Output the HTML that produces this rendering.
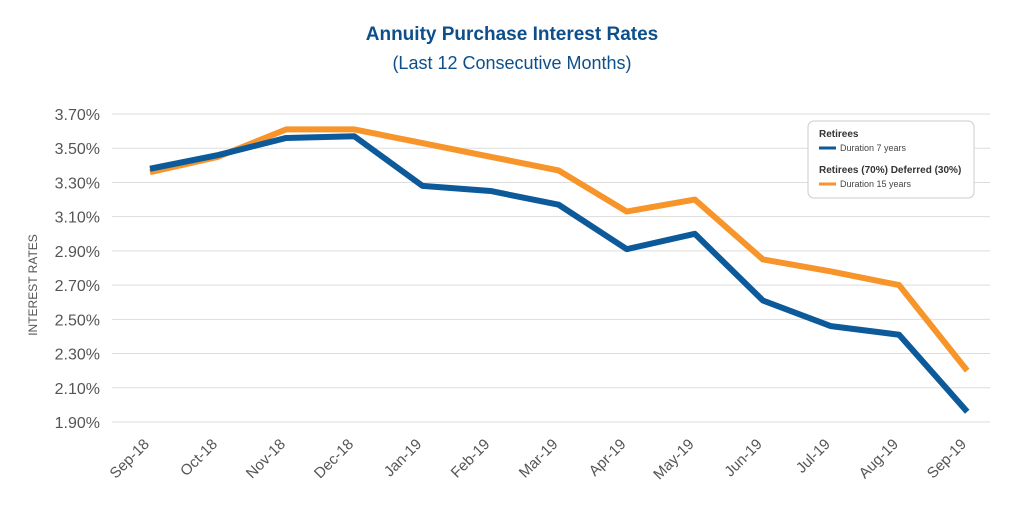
<!DOCTYPE html>
<html><head><meta charset="utf-8"><style>
body{margin:0;background:#fff;font-family:"Liberation Sans",sans-serif;}
svg{display:block}
</style></head><body>
<svg id="chart" width="1024" height="512">
<text x="512" y="40" text-anchor="middle" font-size="19" font-weight="bold" fill="#0d4f8b">Annuity Purchase Interest Rates</text>
<text x="512" y="69" text-anchor="middle" font-size="18" fill="#0d4f8b">(Last 12 Consecutive Months)</text>
<text transform="translate(37,285) rotate(-90)" text-anchor="middle" font-size="12" fill="#555">INTEREST RATES</text>
<g id="grid"></g><g id="lines"></g>
<g>
<rect x="808" y="121" width="166" height="77" rx="6" fill="#fff" stroke="#ccc"/>
<text x="819" y="137" font-size="10" font-weight="bold" fill="#333">Retirees</text>
<line x1="819" y1="148" x2="836" y2="148" stroke="#0d5a9a" stroke-width="3"/>
<text x="840" y="151" font-size="9" fill="#444">Duration 7 years</text>
<text x="819" y="173" font-size="10" font-weight="bold" fill="#333">Retirees (70%) Deferred (30%)</text>
<line x1="819" y1="184" x2="836" y2="184" stroke="#f7942a" stroke-width="3"/>
<text x="840" y="187" font-size="9" fill="#444">Duration 15 years</text>
</g>
</svg>
<script>
const months=["Sep-18","Oct-18","Nov-18","Dec-18","Jan-19","Feb-19","Mar-19","Apr-19","May-19","Jun-19","Jul-19","Aug-19","Sep-19"];
const retirees=[3.38,3.46,3.56,3.57,3.28,3.25,3.17,2.91,3.00,2.61,2.46,2.41,1.96];
const deferred=[3.36,3.45,3.61,3.61,3.53,3.45,3.37,3.13,3.20,2.85,2.78,2.70,2.20];
const yTicks=[1.9,2.1,2.3,2.5,2.7,2.9,3.1,3.3,3.5,3.7];
const NS="http://www.w3.org/2000/svg";
const y=v=>114+(3.7-v)*171.1;
const x=i=>150+i*68.1;
const grid=document.getElementById('grid'),lines=document.getElementById('lines');
yTicks.forEach(t=>{
 const l=document.createElementNS(NS,'line');
 
 
 l.setAttribute('x1',112);l.setAttribute('x2',990);l.setAttribute('y1',y(t));l.setAttribute('y2',y(t));
 l.setAttribute('stroke','#ddd');grid.appendChild(l);
 const tx=document.createElementNS(NS,'text');
 
 
 tx.setAttribute('x',100);tx.setAttribute('y',y(t)+6);tx.setAttribute('text-anchor','end');
 tx.setAttribute('font-size','16');tx.setAttribute('fill','#555');tx.textContent=t.toFixed(2)+'%';grid.appendChild(tx);
});
months.forEach((m,i)=>{
 const tx=document.createElementNS(NS,'text');
 
 
 tx.setAttribute('transform',`translate(${x(i)},${445}) rotate(-45)`);tx.setAttribute('text-anchor','end');
 tx.setAttribute('font-size','15');tx.setAttribute('fill','#555');tx.textContent=m;grid.appendChild(tx);
});
function series(d,c,n){
 const p=document.createElementNS(NS,'polyline');
 
 
 p.setAttribute('points',d.map((v,i)=>x(i)+','+y(v)).join(' '));
 p.setAttribute('fill','none');p.setAttribute('stroke',c);p.setAttribute('stroke-width','6');p.setAttribute('stroke-linejoin','round');
 lines.appendChild(p);
}
series(deferred,'#f7942a','deferred-line');
series(retirees,'#0d5a9a','retirees-line');
</script>
</body></html>
